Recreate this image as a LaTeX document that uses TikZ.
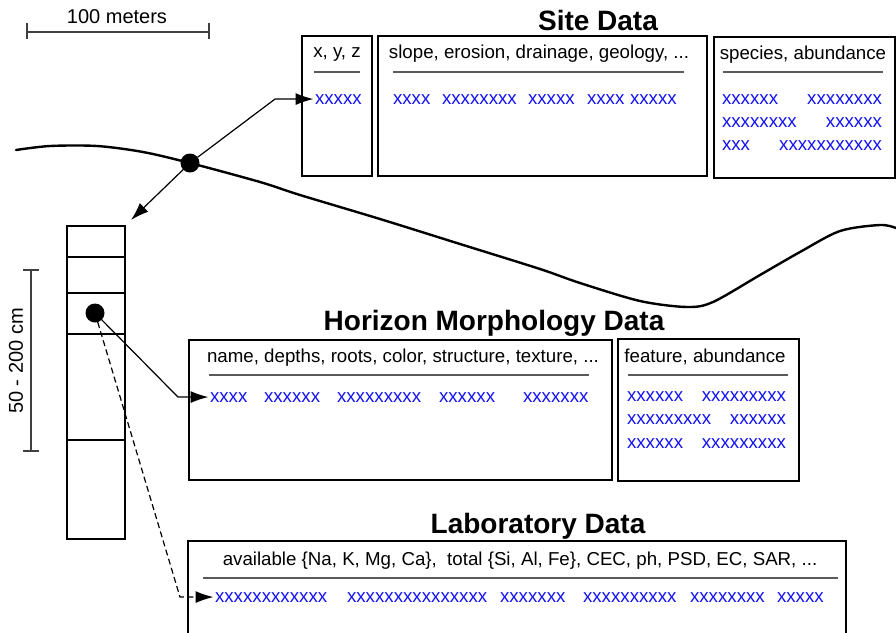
\documentclass[tikz,border=0pt]{standalone}
\usepackage{fontspec}
\setmainfont{Liberation Sans}
\usetikzlibrary{arrows.meta,calc}
\definecolor{rulegray}{RGB}{90,90,90}
\definecolor{xblue}{RGB}{20,20,245}
\begin{document}
\begin{tikzpicture}[x=1pt,y=-1pt,
  every node/.style={inner sep=0pt,outer sep=0pt},
  databox/.style={draw=black,line width=1.8pt,anchor=north west},
  hdr/.style={font=\fontsize{18.7}{22}\selectfont,anchor=base},
  row/.style={font=\fontsize{18.7}{22}\selectfont,text=xblue},
  ttl/.style={font=\fontsize{28}{32}\selectfont\bfseries,anchor=base},
  note/.style={font=\fontsize{20}{24}\selectfont},
  hrule/.style={draw=rulegray,line width=1.4pt},
  thin/.style={line width=1.1pt},
  dot/.style={circle,fill=black,minimum size=19pt},
  link/.style={line width=1.2pt,-{Latex[length=18pt,width=12pt]},shorten >=1.5pt},
  dlink/.style={link,dash pattern=on 6pt off 3.5pt}]

\clip (0,0) rectangle (896,632);
\fill[white] (0,0) rectangle (896,632);

% horizontal scale bar
\node[note,anchor=base] (scaletxt) at (117,23) {100 meters};
\draw[thin,draw=black!75] (27,32) -- (209,32) (27,23) -- (27,39) (209,23) -- (209,39);

% terrain surface
\draw[line width=2.4pt,line cap=round] plot[smooth,tension=0.5] coordinates {
  (16,150) (50,146) (97,146) (143,152) (190,163) (260,182) (300,195)
  (380,219) (460,244) (540,269) (580,283) (640,301) (687,307) (713,302)
  (760,275) (800,252) (840,231) (880,225) (896,228)};
\node[dot] (sitedot) at (190,163) {};

% soil profile column
\draw[thin] (67,226) rectangle (125,539);
\foreach \yy in {257,293,334,440} \draw[thin] (67,\yy) -- (125,\yy);
\node[dot] (coldot) at (95,313) {};
\coordinate (coltop) at (131,220);

% depth scale bar
\draw[thin,draw=black!75] (31,270) -- (31,451) (23,270) -- (39,270) (23,451) -- (39,451);
\node[note,rotate=90] (depthtxt) at (16,361) {50 - 200 cm};

% ---------- Site Data ----------
\node[ttl] (sitettl) at (598,30) {Site Data};
\node[databox,minimum width=70pt,minimum height=140pt] (sbox1) at (302,36) {};
\node[databox,minimum width=329pt,minimum height=140pt] (sbox2) at (378,36) {};
\node[databox,minimum width=181pt,minimum height=141pt] (sbox3) at (714,37) {};
\node[hdr] (sh1) at (337,57) {x, y, z};
\node[hdr] (sh2) at (539,58) {slope, erosion, drainage, geology, ...};
\node[hdr] (sh3) at (803,59) {species, abundance};
\draw[hrule] (314,72) -- (360,72) (393,72) -- (684,72) (723,72) -- (883,72);
\node[row,anchor=base west] (xyz) at (315,104) {xxxxx};
\foreach \xx/\tt [count=\i] in {393/xxxx,442/xxxxxxxx,528/xxxxx,587/xxxx,630/xxxxx}
  \node[row,anchor=base west] (srow\i) at (\xx,104) {\tt};
\node[row,anchor=base west] (sp1) at (722,104) {xxxxxx};
\node[row,anchor=base east] (sp2) at (882,104) {xxxxxxxx};
\node[row,anchor=base west] (sp3) at (722,127) {xxxxxxxx};
\node[row,anchor=base east] (sp4) at (882,127) {xxxxxx};
\node[row,anchor=base west] (sp5) at (722,150) {xxx};
\node[row,anchor=base east] (sp6) at (882,150) {xxxxxxxxxxx};

% ---------- Horizon Morphology Data ----------
\node[ttl] (horttl) at (494,330) {Horizon Morphology Data};
\node[databox,minimum width=423pt,minimum height=140pt] (hbox1) at (189,340) {};
\node[databox,minimum width=181pt,minimum height=142pt] (hbox2) at (618,339) {};
\node[hdr] (hh1) at (403,362) {name, depths, roots, color, structure, texture, ...};
\node[hdr] (hh2) at (705,362) {feature, abundance};
\draw[hrule] (209,375) -- (589,375) (628,375) -- (788,375);
\foreach \xx/\tt [count=\i] in {210/xxxx,264/xxxxxx,337/xxxxxxxxx,439/xxxxxx,523/xxxxxxx}
  \node[row,anchor=base west] (hrow\i) at (\xx,402) {\tt};
\node[row,anchor=base west] (ft1) at (627,401) {xxxxxx};
\node[row,anchor=base east] (ft2) at (786,401) {xxxxxxxxx};
\node[row,anchor=base west] (ft3) at (627,424) {xxxxxxxxx};
\node[row,anchor=base east] (ft4) at (786,424) {xxxxxx};
\node[row,anchor=base west] (ft5) at (627,448) {xxxxxx};
\node[row,anchor=base east] (ft6) at (786,448) {xxxxxxxxx};

% ---------- Laboratory Data ----------
\node[ttl] (labttl) at (538,533) {Laboratory Data};
\draw[line width=1.8pt] (188,660) -- (188,541) -- (846,541) -- (846,660);
\node[hdr] (lh) at (520,565) {available \{Na, K, Mg, Ca\},\ \ total \{Si, Al, Fe\}, CEC, ph, PSD, EC, SAR, ...};
\draw[hrule] (203,578) -- (838,578);
\foreach \xx/\tt [count=\i] in {215/xxxxxxxxxxxx,347/xxxxxxxxxxxxxxx,500/xxxxxxx,583/xxxxxxxxxx,690/xxxxxxxx,777/xxxxx}
  \node[row,anchor=base west] (lab\i) at (\xx,602) {\tt};

% ---------- connectors ----------
\coordinate (c1) at ([xshift=-40pt]xyz.west);
\coordinate (c2) at ([xshift=-32pt]hrow1.west);
\coordinate (c3) at ([xshift=-35pt]lab1.west);
\draw[link] (sitedot) -- (c1) -- (xyz.west);
\draw[link,shorten >=0pt] (sitedot) -- (coltop);
\draw[link] (coldot) -- (c2) -- (hrow1.west);
\draw[dlink] (coldot) -- (c3) -- (lab1.west);
\end{tikzpicture}
\end{document}
